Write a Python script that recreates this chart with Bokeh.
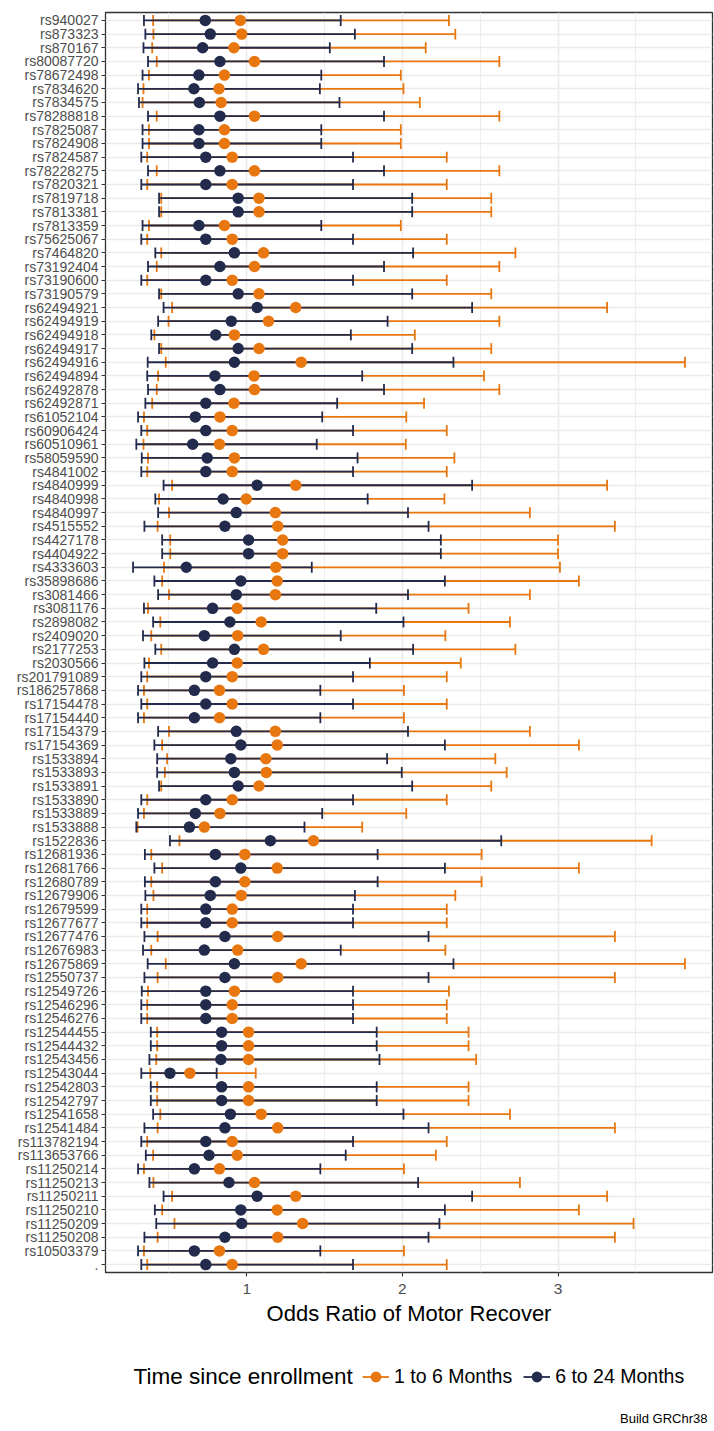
from bokeh.plotting import figure
from bokeh.layouts import column
from bokeh.models import ColumnDataSource, FixedTicker, Range1d, Legend, LegendItem, Label
from bokeh.embed import file_html
from bokeh.resources import INLINE

snps = ["rs940027", "rs873323", "rs870167", "rs80087720", "rs78672498", "rs7834620", "rs7834575",
        "rs78288818", "rs7825087", "rs7824908", "rs7824587", "rs78228275", "rs7820321", "rs7819718",
        "rs7813381", "rs7813359", "rs75625067", "rs7464820", "rs73192404", "rs73190600", "rs73190579",
        "rs62494921", "rs62494919", "rs62494918", "rs62494917", "rs62494916", "rs62494894", "rs62492878",
        "rs62492871", "rs61052104", "rs60906424", "rs60510961", "rs58059590", "rs4841002", "rs4840999",
        "rs4840998", "rs4840997", "rs4515552", "rs4427178", "rs4404922", "rs4333603", "rs35898686",
        "rs3081466", "rs3081176", "rs2898082", "rs2409020", "rs2177253", "rs2030566", "rs201791089",
        "rs186257868", "rs17154478", "rs17154440", "rs17154379", "rs17154369", "rs1533894", "rs1533893",
        "rs1533891", "rs1533890", "rs1533889", "rs1533888", "rs1522836", "rs12681936", "rs12681766",
        "rs12680789", "rs12679906", "rs12679599", "rs12677677", "rs12677476", "rs12676983", "rs12675869",
        "rs12550737", "rs12549726", "rs12546296", "rs12546276", "rs12544455", "rs12544432", "rs12543456",
        "rs12543044", "rs12542803", "rs12542797", "rs12541658", "rs12541484", "rs113782194", "rs113653766",
        "rs11250214", "rs11250213", "rs11250211", "rs11250210", "rs11250209", "rs11250208", "rs10503379", "."]

# 1 to 6 Months
early_lo = [0.399, 0.401, 0.393, 0.422, 0.372, 0.337, 0.331, 0.422, 0.372, 0.372, 0.361, 0.422, 0.361, 0.451,
            0.451, 0.372, 0.361, 0.451, 0.422, 0.361, 0.451, 0.521, 0.498, 0.407, 0.451, 0.480, 0.431, 0.422,
            0.393, 0.340, 0.361, 0.337, 0.366, 0.361, 0.521, 0.437, 0.501, 0.428, 0.509, 0.509, 0.469, 0.457,
            0.501, 0.366, 0.445, 0.387, 0.451, 0.372, 0.361, 0.340, 0.361, 0.340, 0.501, 0.457, 0.489, 0.474,
            0.451, 0.361, 0.340, 0.299, 0.568, 0.387, 0.457, 0.387, 0.401, 0.361, 0.361, 0.428, 0.387, 0.480,
            0.428, 0.366, 0.361, 0.361, 0.425, 0.425, 0.419, 0.381, 0.425, 0.425, 0.445, 0.428, 0.361, 0.399,
            0.340, 0.401, 0.521, 0.457, 0.536, 0.428, 0.340, 0.361]
early_or = [0.959, 0.968, 0.918, 1.050, 0.857, 0.822, 0.836, 1.050, 0.857, 0.857, 0.907, 1.050, 0.907, 1.079,
            1.079, 0.857, 0.907, 1.108, 1.050, 0.907, 1.079, 1.315, 1.140, 0.921, 1.079, 1.350, 1.047, 1.050,
            0.918, 0.828, 0.907, 0.825, 0.921, 0.907, 1.315, 0.997, 1.184, 1.199, 1.231, 1.231, 1.187, 1.196,
            1.184, 0.939, 1.093, 0.942, 1.108, 0.939, 0.907, 0.825, 0.907, 0.825, 1.184, 1.196, 1.123, 1.126,
            1.079, 0.907, 0.828, 0.728, 1.429, 0.988, 1.196, 0.988, 0.965, 0.907, 0.907, 1.199, 0.942, 1.350,
            1.199, 0.921, 0.907, 0.907, 1.012, 1.012, 1.012, 0.635, 1.012, 1.012, 1.093, 1.199, 0.907, 0.939,
            0.825, 1.050, 1.315, 1.196, 1.359, 1.199, 0.825, 0.907]
early_hi = [2.299, 2.340, 2.150, 2.623, 1.990, 2.007, 2.112, 2.623, 1.990, 1.990, 2.285, 2.623, 2.285, 2.571,
            2.571, 1.990, 2.285, 2.726, 2.623, 2.285, 2.571, 3.315, 2.623, 2.080, 2.571, 3.815, 2.524, 2.623,
            2.139, 2.025, 2.285, 2.022, 2.334, 2.285, 3.315, 2.270, 2.819, 3.365, 3.000, 3.000, 3.012, 3.134,
            2.819, 2.425, 2.691, 2.276, 2.726, 2.375, 2.285, 2.010, 2.285, 2.010, 2.819, 3.134, 2.597, 2.670,
            2.571, 2.285, 2.025, 1.742, 3.601, 2.509, 3.134, 2.509, 2.340, 2.285, 2.285, 3.365, 2.276, 3.815,
            3.365, 2.299, 2.285, 2.285, 2.425, 2.425, 2.474, 1.058, 2.425, 2.425, 2.691, 3.365, 2.285, 2.215,
            2.010, 2.755, 3.315, 3.134, 3.485, 3.365, 2.010, 2.285]

# 6 to 24 Months
late_lo = [0.340, 0.349, 0.337, 0.366, 0.331, 0.302, 0.308, 0.366, 0.331, 0.331, 0.323, 0.366, 0.323, 0.437,
           0.437, 0.331, 0.323, 0.413, 0.366, 0.323, 0.437, 0.466, 0.431, 0.387, 0.437, 0.364, 0.361, 0.366,
           0.349, 0.302, 0.323, 0.291, 0.326, 0.323, 0.466, 0.413, 0.431, 0.343, 0.457, 0.457, 0.270, 0.407,
           0.431, 0.340, 0.399, 0.334, 0.413, 0.343, 0.323, 0.302, 0.323, 0.302, 0.431, 0.407, 0.425, 0.425,
           0.437, 0.323, 0.302, 0.291, 0.507, 0.346, 0.407, 0.346, 0.349, 0.323, 0.323, 0.343, 0.334, 0.364,
           0.343, 0.326, 0.323, 0.323, 0.384, 0.384, 0.375, 0.323, 0.384, 0.384, 0.399, 0.343, 0.323, 0.352,
           0.302, 0.375, 0.466, 0.410, 0.419, 0.343, 0.302, 0.323]
late_or = [0.734, 0.766, 0.717, 0.828, 0.693, 0.661, 0.696, 0.828, 0.693, 0.693, 0.737, 0.828, 0.737, 0.945,
           0.945, 0.693, 0.737, 0.921, 0.828, 0.737, 0.945, 1.067, 0.901, 0.801, 0.945, 0.921, 0.796, 0.828,
           0.737, 0.670, 0.737, 0.653, 0.746, 0.737, 1.067, 0.848, 0.933, 0.860, 1.012, 1.012, 0.612, 0.962,
           0.933, 0.781, 0.892, 0.728, 0.921, 0.781, 0.737, 0.664, 0.737, 0.664, 0.933, 0.962, 0.898, 0.921,
           0.945, 0.737, 0.670, 0.632, 1.152, 0.799, 0.962, 0.799, 0.766, 0.737, 0.737, 0.860, 0.728, 0.921,
           0.860, 0.737, 0.737, 0.737, 0.839, 0.839, 0.834, 0.507, 0.839, 0.839, 0.895, 0.860, 0.737, 0.758,
           0.664, 0.886, 1.067, 0.962, 0.968, 0.860, 0.664, 0.737]
late_hi = [1.604, 1.695, 1.534, 1.882, 1.479, 1.470, 1.596, 1.882, 1.479, 1.479, 1.683, 1.882, 1.683, 2.063,
           2.063, 1.479, 1.683, 2.069, 1.882, 1.683, 2.063, 2.448, 1.905, 1.669, 2.063, 2.328, 1.742, 1.882,
           1.581, 1.485, 1.683, 1.450, 1.712, 1.683, 2.448, 1.777, 2.036, 2.168, 2.247, 2.247, 1.418, 2.273,
           2.036, 1.832, 2.007, 1.604, 2.069, 1.791, 1.683, 1.473, 1.683, 1.473, 2.036, 2.273, 1.902, 1.996,
           2.063, 1.683, 1.485, 1.371, 2.635, 1.841, 2.273, 1.841, 1.695, 1.683, 1.683, 2.168, 1.604, 2.328,
           2.168, 1.683, 1.683, 1.683, 1.835, 1.835, 1.853, 0.807, 1.835, 1.835, 2.007, 2.168, 1.683, 1.636,
           1.473, 2.101, 2.448, 2.273, 2.238, 2.168, 1.473, 1.683]

x_ticks = [1, 2, 3]
x_minor = [0.5, 1.5, 2.5, 3.5]
group_labels = ["1 to 6 Months", "6 to 24 Months"]
legend_title = "Time since enrollment"
x_title = "Odds Ratio of Motor Recover"
caption = "Build GRChr38"

ORANGE = "#E8770F"
NAVY = "#232B4C"
FONT = "Liberation Sans"

n = len(snps)
ypos = [n - 1 - i for i in range(n)]
CAP = 0.4
LEFT, FW, RIGHT = 105, 607, 2
TOP, FH, BOTTOM = 12, 1260, 66
H2 = 1431 - (TOP + FH + BOTTOM)

p = figure(frame_width=FW, frame_height=FH,
           min_border_left=LEFT, min_border_right=RIGHT, min_border_top=TOP, min_border_bottom=BOTTOM,
           x_range=Range1d(0.093, 3.992), y_range=Range1d(-0.58, n - 1 + 0.58),
           output_backend="svg", toolbar_location=None)
p.background_fill_color = "white"
p.border_fill_color = "white"
p.outline_line_color = "#333333"
p.outline_line_width = 1.3


def add_group(lo, orv, hi, color):
    src = ColumnDataSource(dict(y=ypos, lo=lo, orv=orv, hi=hi,
                                ya=[y - CAP for y in ypos], yb=[y + CAP for y in ypos]))
    p.segment(x0="lo", y0="y", x1="hi", y1="y", source=src, line_color=color, line_width=1.8)
    p.segment(x0="lo", y0="ya", x1="lo", y1="yb", source=src, line_color=color, line_width=1.8)
    p.segment(x0="hi", y0="ya", x1="hi", y1="yb", source=src, line_color=color, line_width=1.8)
    return src


src_e = add_group(early_lo, early_or, early_hi, ORANGE)
src_l = add_group(late_lo, late_or, late_hi, NAVY)
p.scatter(x="orv", y="y", source=src_e, size=11.5, fill_color=ORANGE, line_color=None)
p.scatter(x="orv", y="y", source=src_l, size=11.5, fill_color=NAVY, line_color=None)

# axes
p.xaxis.ticker = FixedTicker(ticks=x_ticks, minor_ticks=x_minor)
p.yaxis.ticker = FixedTicker(ticks=ypos)
p.yaxis.major_label_overrides = {y: s for y, s in zip(ypos, snps)}
for ax in (p.xaxis[0], p.yaxis[0]):
    ax.axis_line_color = None
    ax.major_tick_line_color = "#333333"
    ax.major_tick_line_width = 1.1
    ax.major_tick_out = 4
    ax.major_tick_in = 0
    ax.minor_tick_line_color = None
    ax.major_label_text_color = "#4D4D4D"
    ax.major_label_text_font = FONT
p.yaxis.major_label_text_font_size = "14px"
p.yaxis.major_label_standoff = 3
p.xaxis.major_label_text_font_size = "15.5px"
p.xaxis.major_label_standoff = 7
p.xaxis.axis_label = x_title
p.xaxis.axis_label_text_font = FONT
p.xaxis.axis_label_text_font_size = "22px"
p.xaxis.axis_label_text_font_style = "normal"
p.xaxis.axis_label_text_color = "black"
p.xaxis.axis_label_standoff = 4

# grid
p.xgrid.grid_line_color = "#EBEBEB"
p.xgrid.grid_line_width = 1.6
p.xgrid.minor_grid_line_color = "#EBEBEB"
p.xgrid.minor_grid_line_width = 0.9
p.ygrid.grid_line_color = "#EBEBEB"
p.ygrid.grid_line_width = 1.6

# legend / caption strip (frame aligned with the main plot's frame)
p2 = figure(frame_width=FW, frame_height=H2, x_range=Range1d(0, FW), y_range=Range1d(0, H2),
            min_border_left=LEFT, min_border_right=RIGHT, min_border_top=0, min_border_bottom=0,
            x_axis_type=None, y_axis_type=None,
            output_backend="svg", toolbar_location=None)
p2.outline_line_color = None
p2.background_fill_color = "white"
p2.border_fill_color = "white"

# off-screen stand-in glyphs that only provide the legend keys
key_src = ColumnDataSource(dict(x=[-1000], y=[-1000]))
k_seg_e = p2.segment(x0="x", y0="y", x1="x", y1="y", source=key_src, line_color=ORANGE, line_width=1.8)
k_pt_e = p2.scatter(x="x", y="y", source=key_src, fill_color=ORANGE, line_color=None)
k_seg_l = p2.segment(x0="x", y0="y", x1="x", y1="y", source=key_src, line_color=NAVY, line_width=1.8)
k_pt_l = p2.scatter(x="x", y="y", source=key_src, fill_color=NAVY, line_color=None)

LEG_Y = 1431 - 1376 - H2 + H2  # legend row centre, measured up from the strip bottom
LEG_Y = 1431 - 1376
legend = Legend(items=[LegendItem(label=group_labels[0], renderers=[k_seg_e, k_pt_e]),
                       LegendItem(label=group_labels[1], renderers=[k_seg_l, k_pt_l])],
                orientation="horizontal", location=(257, LEG_Y - 13.5),
                glyph_width=27, glyph_height=27, label_height=27, label_width=10,
                label_standoff=5, spacing=11, padding=0, margin=0,
                border_line_color=None, background_fill_alpha=0,
                label_text_font=FONT, label_text_font_size="19.5px", label_text_color="black")
p2.add_layout(legend, "center")

p2.add_layout(Label(x=28, y=LEG_Y, x_units="screen", y_units="screen", text=legend_title,
                    text_baseline="middle", text_font=FONT, text_font_size="22.5px", text_color="black"))
p2.add_layout(Label(x=FW - 5, y=1431 - 1418, x_units="screen", y_units="screen", text=caption,
                    text_align="right", text_baseline="middle", text_font=FONT,
                    text_font_size="13px", text_color="black"))

layout = column(p, p2, spacing=0)
open("out.html", "w").write(file_html(layout, INLINE))
